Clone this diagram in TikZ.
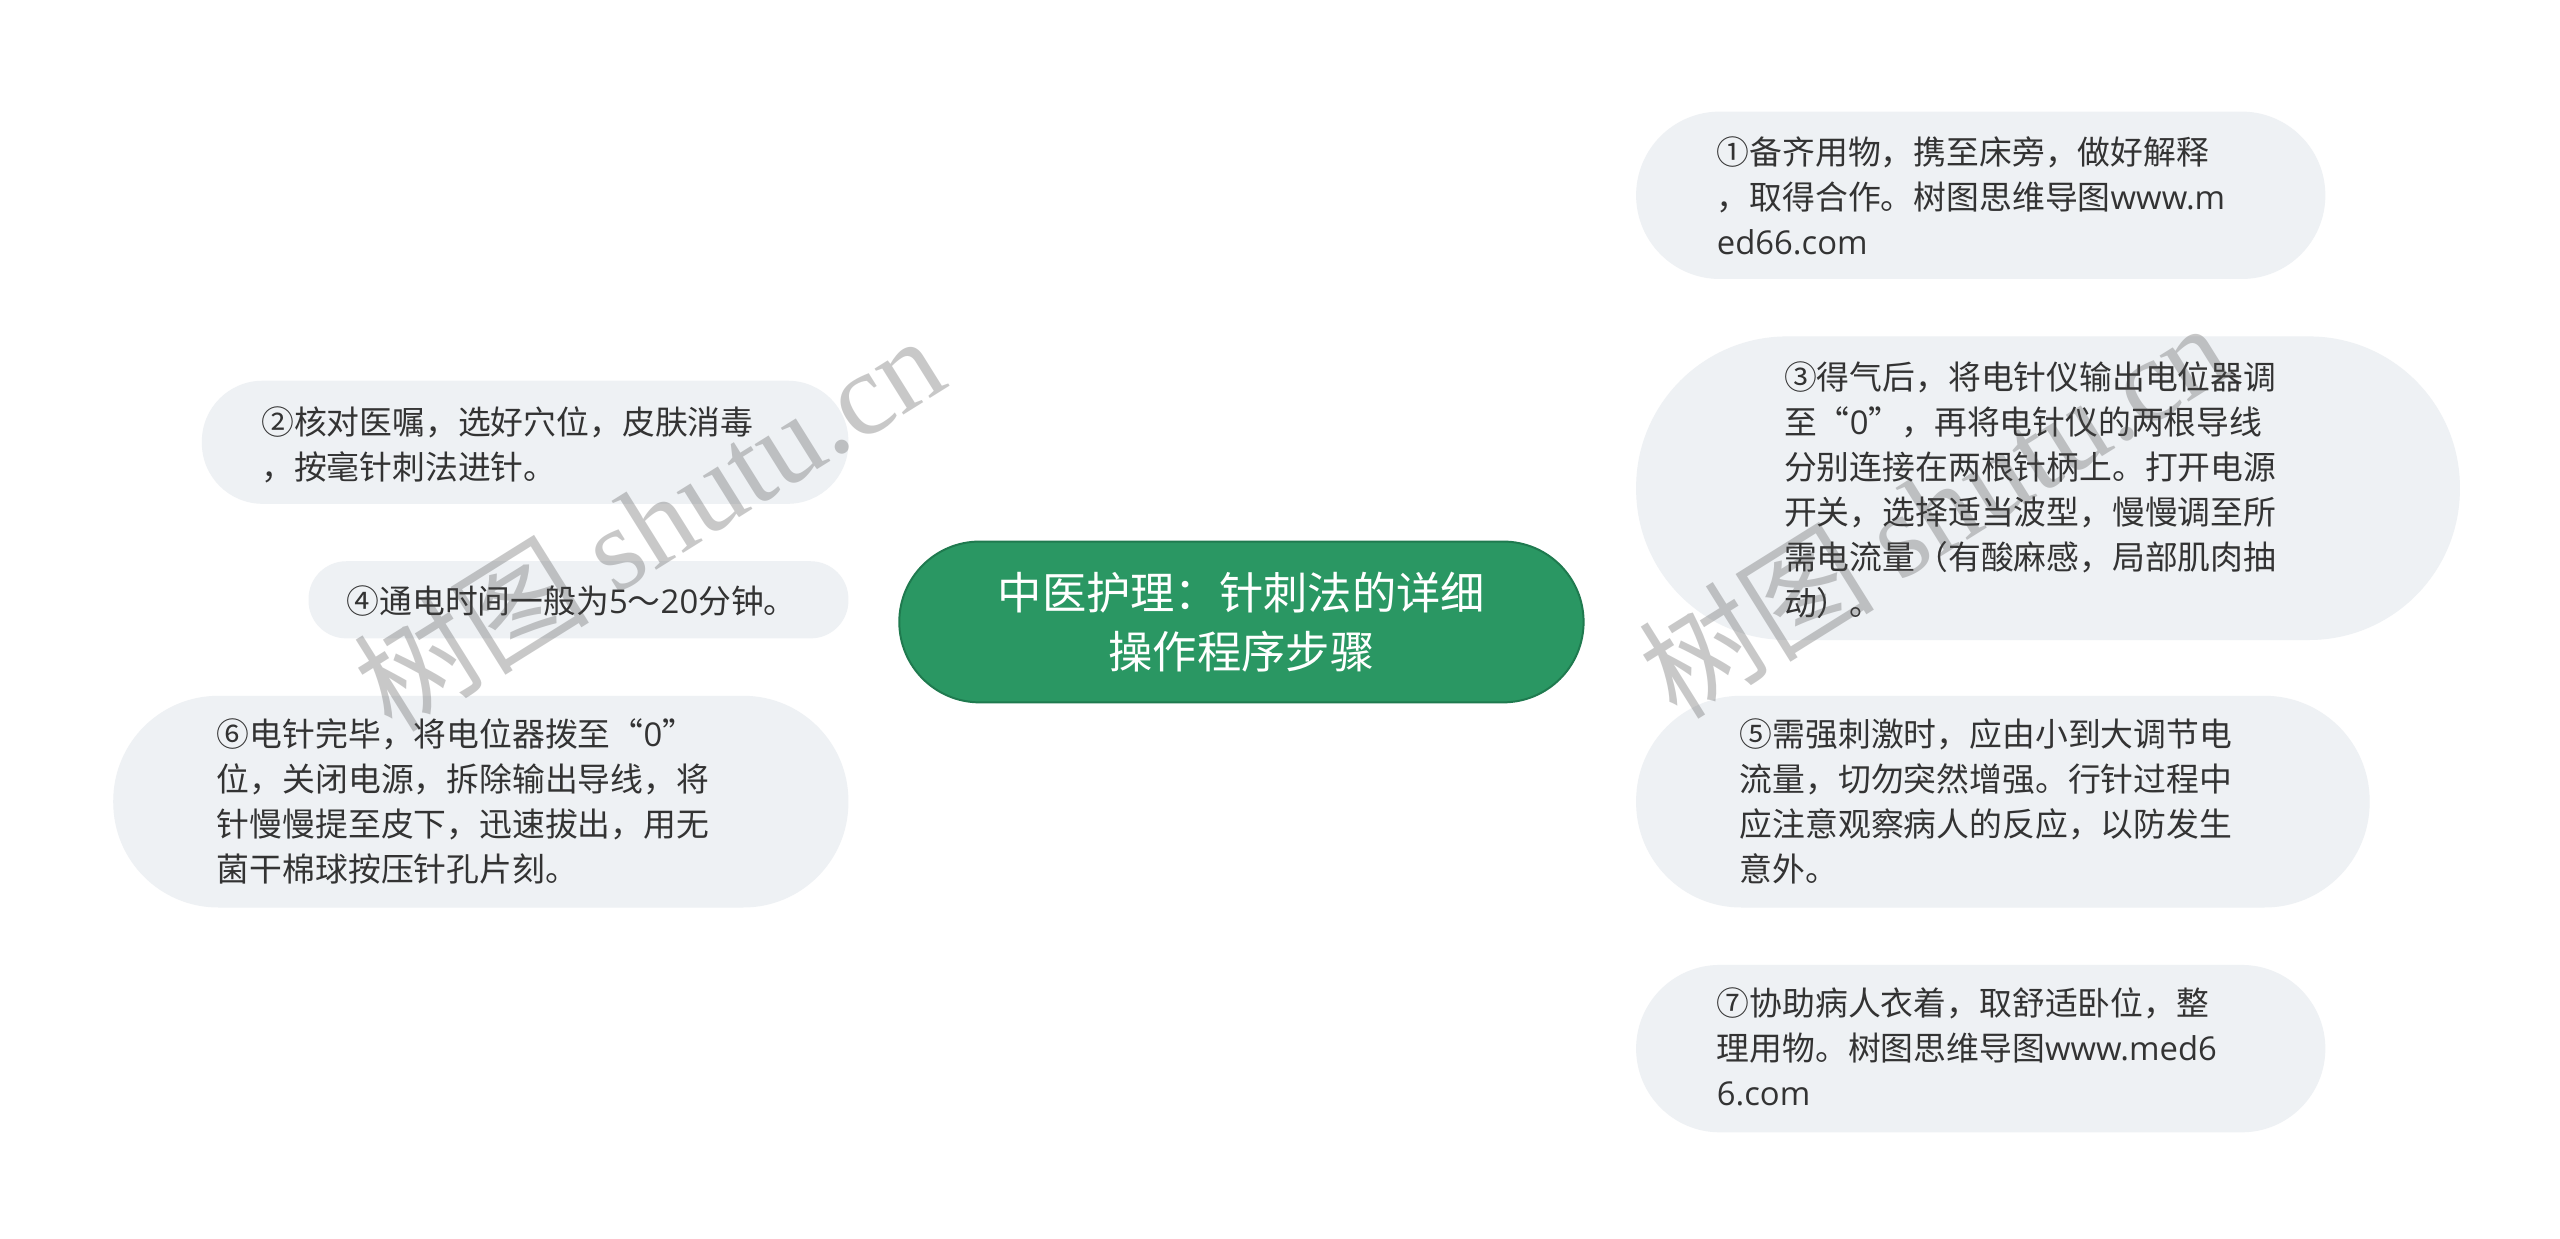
\documentclass[tikz,border=0pt]{standalone}
\usepackage{fontspec}
\setmainfont{Noto Sans CJK SC}
\newfontfamily\lat{Open Sans}
\newfontfamily\wmlat{Liberation Serif}
\usetikzlibrary{backgrounds}
\definecolor{boxfill}{HTML}{EEF1F4}
\definecolor{hubfill}{HTML}{2A9763}
\definecolor{hubline}{HTML}{1F7A4F}
\definecolor{link}{HTML}{2E8C5E}
\definecolor{txt}{HTML}{333333}
\begin{document}
\begin{tikzpicture}[x=1pt,y=-1pt,
  leaf/.style={fill=boxfill, draw=none, inner sep=0pt},
  leaftext/.style={inner sep=0pt, anchor=west, text=txt, align=left,
    font=\fontsize{20}{27.5}\selectfont},
  hubbox/.style={fill=hubfill, draw=hubline, line width=1.2pt, inner sep=0pt,
    text=white, align=center, font=\fontsize{27}{36}\selectfont,
    minimum width=417, minimum height=98, rounded corners=49},
  conn/.style={draw=link, line width=2pt},
  wmark/.style={text=black!70, opacity=0.3, rotate=32, inner sep=0pt,
    font=\fontsize{72}{72}\selectfont}]
\useasboundingbox[fill=white] (0,0) rectangle (1560,755);

\node[hubbox] (hub) at (756.5,379) {中医护理：针刺法的详细\\操作程序步骤};

% boxes
\node[leaf, minimum width=420, minimum height=102, rounded corners=51] (n1) at (1207,119) {};
\node[leaf, minimum width=502, minimum height=185, rounded corners=92] (n3) at (1248,297.5) {};
\node[leaf, minimum width=447, minimum height=129, rounded corners=64] (n5) at (1220.5,488.5) {};
\node[leaf, minimum width=420, minimum height=102, rounded corners=51] (n7) at (1207,639) {};
\node[leaf, minimum width=394, minimum height=75, rounded corners=37] (n2) at (320,269.5) {};
\node[leaf, minimum width=329, minimum height=47, rounded corners=23] (n4) at (352.5,365.5) {};
\node[leaf, minimum width=448, minimum height=129, rounded corners=64] (n6) at (293,488.5) {};

% texts
\node[leaftext] (t1) at (1046,119.5)
  {①备齐用物，携至床旁，做好解释\\，取得合作。树图思维导图{\lat www.m}\\{\lat ed66.com}};
\node[leaftext] (t3) at (1087,298.5)
  {③得气后，将电针仪输出电位器调\\至“{\lat 0}”，再将电针仪的两根导线\\分别连接在两根针柄上。打开电源\\开关，选择适当波型，慢慢调至所\\需电流量（有酸麻感，局部肌肉抽\\动）。};
\node[leaftext] (t5) at (1060,488.5)
  {⑤需强刺激时，应由小到大调节电\\流量，切勿突然增强。行针过程中\\应注意观察病人的反应，以防发生\\意外。};
\node[leaftext] (t7) at (1046,638)
  {⑦协助病人衣着，取舒适卧位，整\\理用物。树图思维导图{\lat www.med6}\\{\lat 6.com}};
\node[leaftext] (t2) at (159,271)
  {②核对医嘱，选好穴位，皮肤消毒\\，按毫针刺法进针。};
\node[leaftext] (t4) at (211,366)
  {④通电时间一般为{\lat 5}～{\lat 20}分钟。};
\node[leaftext] (t6) at (132,488.5)
  {⑥电针完毕，将电位器拨至“{\lat 0}”\\位，关闭电源，拆除输出导线，将\\针慢慢提至皮下，迅速拔出，用无\\菌干棉球按压针孔片刻。};

\begin{pgfonlayer}{background}
\draw[conn] ([xshift=-2pt]hub.north) .. controls +(15.5,-120) and +(-190,0) .. (n1.west);
\draw[conn] ([xshift=30pt]hub.north) .. controls +(40,-25) and +(-100,0) .. (n3.west);
\draw[conn] ([xshift=12pt]hub.south) .. controls +(45,45) and +(-120,0) .. (n5.west);
\draw[conn] ([xshift=-1pt]hub.south) .. controls +(15.5,120) and +(-190,0) .. (n7.west);
\draw[conn] ([xshift=-19pt]hub.north) .. controls +(-28,-35) and +(123,0) .. (n2.east);
\draw[conn] ([xshift=-19pt]hub.south) .. controls +(-28,35) and +(123,0) .. (n6.east);
\draw[conn] (n4.east) -- ([xshift=10pt]n4.east -| hub.west);
\end{pgfonlayer}

\node[wmark] (wm1) at (395,318) {树图 {\wmlat shutu.cn}};
\node[wmark] (wm2) at (1178,310) {树图 {\wmlat shutu.cn}};
\end{tikzpicture}
\end{document}
